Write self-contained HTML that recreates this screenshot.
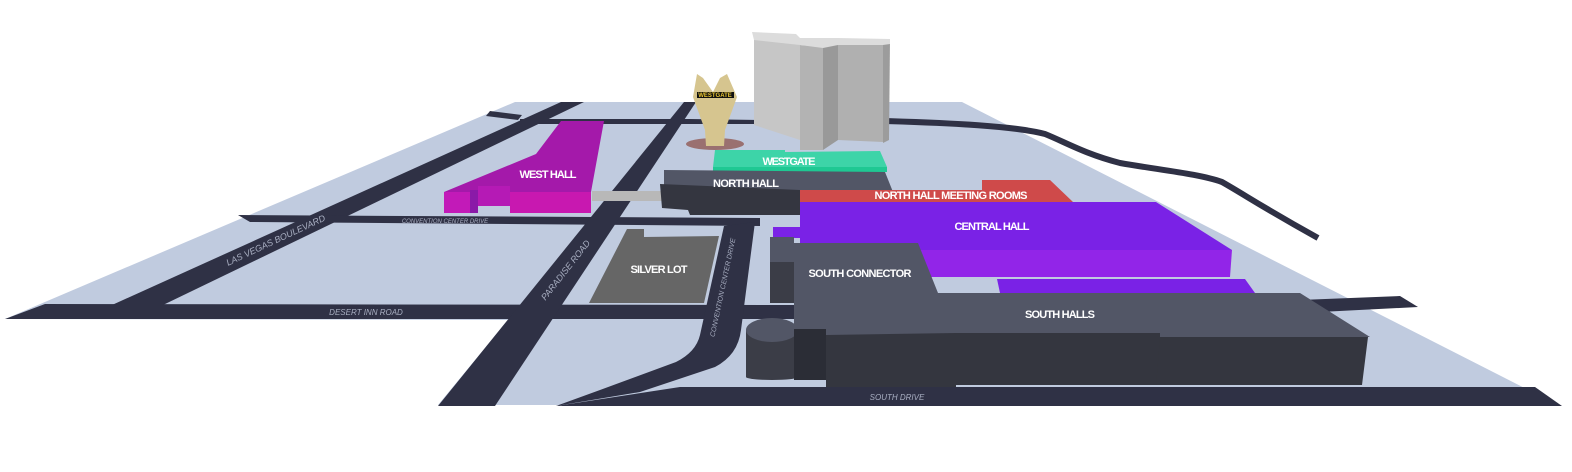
<!DOCTYPE html>
<html><head><meta charset="utf-8"><style>
html,body{margin:0;padding:0;background:#fff;width:1572px;height:472px;overflow:hidden}
svg{display:block}
.l{font-family:"Liberation Sans Narrow","Liberation Sans",sans-serif;font-weight:bold;fill:#fff;font-size:11px;text-anchor:middle}
.r{font-family:"Liberation Sans Narrow","Liberation Sans",sans-serif;font-style:italic;fill:#a9afc2;text-anchor:middle}
</style></head><body>
<svg width="1572" height="472" viewBox="0 0 1572 472" xmlns="http://www.w3.org/2000/svg">
<polygon points="515,102 962,102 1558,405 438,405 508,320 5,319" fill="#c0cbdf"/>
<g fill="#2f3145">
<polygon points="45,304 800,305 800,319 5,319"/>
<polygon points="112,305 163,305 584,102 561,102"/>
<polygon points="490,111 522,115 518,120 486,116"/>
<polygon points="520,119 690,119 690,124 520,124"/>
<polygon points="690,119 760,120 760,124 690,124"/>
<polygon points="238,215 760,218 760,226 250,222"/>
<polygon points="438,406 684,102 696,102 495,406"/>
<path d="M724,226 L755,222 L741,330 Q738,355 715,367 L640,392 L556,406 L600,390 L676,362 Q696,352 700,335 Z"/>
<polygon points="680,387 1535,387 1562,406 556,406"/>
<polygon points="1300,300 1400,296 1418,307 1320,312"/>
</g>
<path d="M885,121 C950,123 1015,126 1045,134 C1065,142 1085,154 1120,163 C1160,170 1200,174 1222,182 C1245,195 1262,207 1318,238" fill="none" stroke="#2f3145" stroke-width="6"/>
<polygon points="627,229 644,229 644,237 719,236 704,303 589,303" fill="#666"/>
<polygon points="561,121 604,121 591,192 444,192 536,154" fill="#a419aa"/>
<rect x="444" y="192" width="26" height="21" fill="#c21ab8"/>
<rect x="470" y="190" width="8" height="23" fill="#8a1aa8"/>
<rect x="478" y="186" width="32" height="20" fill="#b51ab5"/>
<rect x="510" y="192" width="81" height="21" fill="#c818b0"/>
<rect x="592" y="191" width="70" height="10" fill="#b8b8b8"/>
<ellipse cx="715" cy="144" rx="29" ry="6" fill="#9a7070"/>
<polygon points="697,74 703,78 713,92 720,78 727,74 737,97 725,130 724,146 706,146 705,130 693,97" fill="#d6c58f"/>
<rect x="697" y="92" width="37" height="6" fill="#111"/>
<text x="715" y="97" font-family="Liberation Sans" font-size="6" font-weight="bold" fill="#e8c530" text-anchor="middle">WESTGATE</text>
<polygon points="754,38 800,42 800,140 754,125" fill="#c6c6c6"/>
<polygon points="800,45 823,47 823,150 800,150" fill="#b3b3b3"/>
<polygon points="823,45 838,42 838,140 823,150" fill="#999"/>
<polygon points="838,42 883,42 883,142 838,140" fill="#b0b0b0"/>
<polygon points="883,42 890,40 889,140 883,143" fill="#9c9c9c"/>
<polygon points="752,32 796,34 800,38 823,38 838,38 890,39 890,44 883,45 838,45 823,48 800,45 754,40" fill="#dcdcdc"/>
<polygon points="715,150 785,150 785,152 880,151 887,167 713,167" fill="#3dd4a8"/>
<rect x="713" y="167" width="174" height="5" fill="#1fc893"/>
<polygon points="664,170 885,172 893,192 800,192 800,195 664,188" fill="#525666"/>
<polygon points="660,184 800,190 800,215 690,215 688,210 662,208" fill="#343640"/>
<polygon points="800,190 982,190 982,180 1050,180 1073,202 800,202" fill="#cf4a4a"/>
<polygon points="800,202 1156,202 1232,250 800,250" fill="#7a22e6"/>
<polygon points="918,250 1232,250 1230,277 922,277" fill="#9225e8"/>
<polygon points="773,227 800,227 800,238 773,238" fill="#7a22e6"/>
<polygon points="997,279 1245,279 1255,293 1000,293" fill="#7a22e6"/>
<polygon points="770,237 794,237 794,303 770,303" fill="#3b3d47"/>
<polygon points="770,237 794,237 794,262 770,262" fill="#525666"/>
<ellipse cx="772" cy="377" rx="26" ry="3" fill="#3b3d47"/>
<rect x="746" y="330" width="52" height="47" fill="#3b3d47"/>
<ellipse cx="772" cy="330" rx="26" ry="12" fill="#525666"/>
<polygon points="794,243 918,243 938,293 1300,293 1370,337 826,337 826,335 794,335" fill="#525666"/>
<polygon points="794,329 826,329 826,380 794,380" fill="#2b2d36"/>
<polygon points="826,335 956,333 956,387 826,387" fill="#34363f"/>
<polygon points="956,333 1160,333 1160,385 956,385" fill="#34363f"/>
<polygon points="1160,337 1368,337 1362,385 1156,385" fill="#34363f"/>
<text class="l" x="548" y="178" textLength="57">WEST HALL</text>
<text class="l" x="789" y="165" textLength="53">WESTGATE</text>
<text class="l" x="746" y="187" textLength="66">NORTH HALL</text>
<text class="l" x="951" y="199" textLength="153">NORTH HALL MEETING ROOMS</text>
<text class="l" x="992" y="230" textLength="75">CENTRAL HALL</text>
<text class="l" x="860" y="277" textLength="103">SOUTH CONNECTOR</text>
<text class="l" x="1060" y="318" textLength="70">SOUTH HALLS</text>
<text class="l" x="659" y="273" textLength="57">SILVER LOT</text>
<text class="r" font-size="9" transform="translate(277,243) rotate(-25)">LAS VEGAS BOULEVARD</text>
<text class="r" font-size="6" x="445" y="223">CONVENTION CENTER DRIVE</text>
<text class="r" font-size="9" transform="translate(568,272) rotate(-52)">PARADISE ROAD</text>
<text class="r" font-size="8" x="366" y="315">DESERT INN ROAD</text>
<text class="r" font-size="7" transform="translate(725,288) rotate(-78)">CONVENTION CENTER DRIVE</text>
<text class="r" font-size="8" x="897" y="400">SOUTH DRIVE</text>
</svg>
</body></html>
